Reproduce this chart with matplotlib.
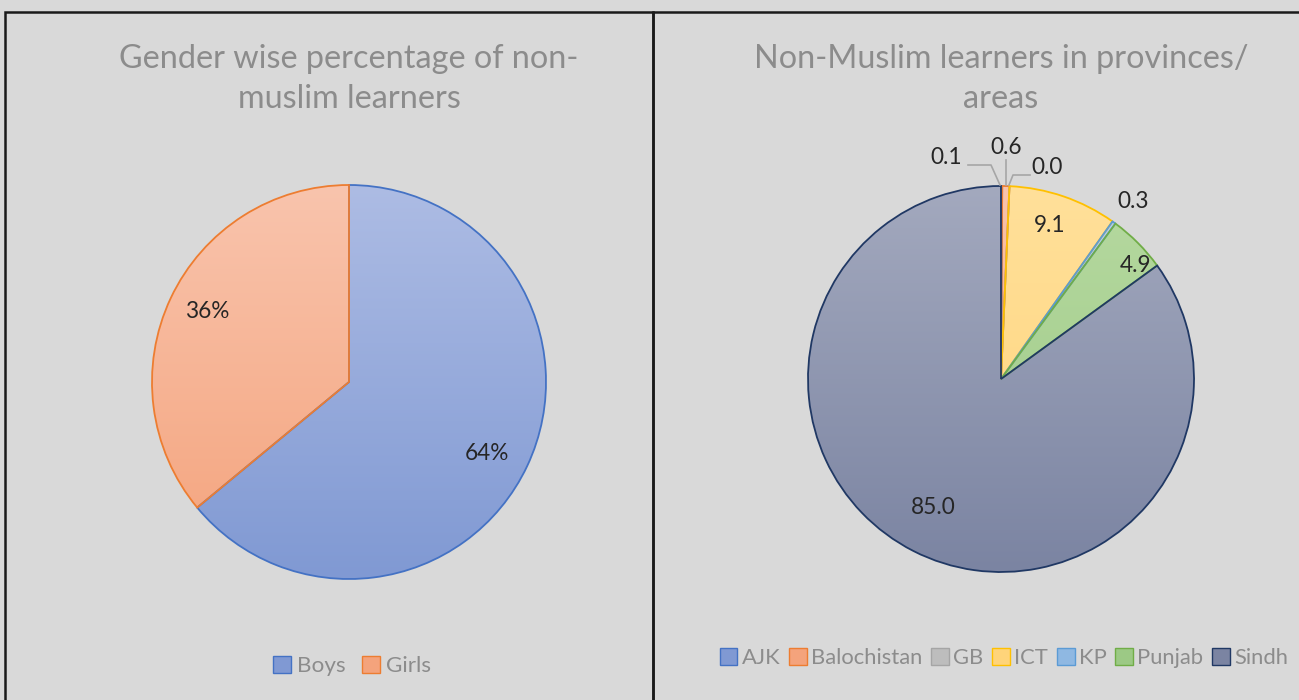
import matplotlib.pyplot as plt
import numpy as np
from matplotlib.colors import LinearSegmentedColormap
from matplotlib.patches import Patch, Rectangle
from matplotlib.lines import Line2D

plt.rcParams['font.family'] = ['Lato', 'DejaVu Sans']

# data
gender_labels = ['Boys', 'Girls']
gender_pct = [64, 36]
prov_labels = ['AJK', 'Balochistan', 'GB', 'ICT', 'KP', 'Punjab', 'Sindh']
prov_pct = [0.1, 0.6, 0.0, 9.1, 0.3, 4.9, 85.0]

# colours: (top of gradient, bottom of gradient, edge)
gender_cols = [('#adbce4', '#8099d3', '#4472c4'),
               ('#f9c4ad', '#f4a37c', '#ed7d31')]
prov_cols = [('#adbce4', '#8099d3', '#4472c4'),
             ('#f9c4ad', '#f4a37c', '#ed7d31'),
             ('#d6d6d6', '#bdbdbd', '#a5a5a5'),
             ('#ffe09a', '#ffd47a', '#ffc000'),
             ('#b4d0ee', '#8fb8e2', '#5b9bd5'),
             ('#b6d9a0', '#9cc985', '#70ad47'),
             ('#a3a9be', '#7b84a2', '#203864')]

W, H = 1299, 700
bg = '#d9d9d9'
txt_grey = '#8c8c8c'
fig = plt.figure(figsize=(W / 100, H / 100), dpi=100, facecolor=bg)

# panel borders
fig.patches.append(Rectangle((5 / W, -0.01), 648 / W, (H - 12) / H + 0.01,
                             transform=fig.transFigure, fill=False,
                             edgecolor='#1a1a1a', lw=1.8))
fig.patches.append(Rectangle((653 / W, -0.01), 660 / W, (H - 12) / H + 0.01,
                             transform=fig.transFigure, fill=False,
                             edgecolor='#1a1a1a', lw=1.8))


def make_axes(cx, cy, r):
    ax = fig.add_axes([(cx - r) / W, (H - cy - r) / H, 2 * r / W, 2 * r / H])
    ax.set_xlim(-1, 1)
    ax.set_ylim(-1, 1)
    ax.axis('off')
    ax.set_facecolor('none')
    return ax


def draw_pie(ax, vals, cols):
    wedges, _ = ax.pie(vals, startangle=90, counterclock=False, radius=1,
                       colors=['none'] * len(vals))
    for w, (top, bot, edge) in zip(wedges, cols):
        w.set_facecolor('none')
        w.set_edgecolor(edge)
        w.set_linewidth(1.3)
        w.set_zorder(3)
        cmap = LinearSegmentedColormap.from_list('g', [bot, top])
        im = ax.imshow(np.linspace(0, 1, 256).reshape(-1, 1), cmap=cmap,
                       extent=[-1, 1, -1, 1], origin='lower', aspect='auto',
                       zorder=2)
        im.set_clip_path(w)
    ax.set_xlim(-1, 1)
    ax.set_ylim(-1, 1)
    return wedges


# left chart
cxL, cyL, rL = 349, 382, 197
axL = make_axes(cxL, cyL, rL)
draw_pie(axL, gender_pct, gender_cols)
for lab, (px, py) in zip(gender_pct, [(487, 454), (207, 311)]):
    axL.text((px - cxL) / rL, (cyL - py) / rL, f'{lab}%', ha='center',
             va='center', fontsize=16.3, color='#262626', zorder=5)

fig.text(349 / W, 1 - 79 / H, 'Gender wise percentage of non-\nmuslim learners',
         ha='center', va='center', fontsize=23.3, color=txt_grey, linespacing=1.45)

legL = fig.legend([Patch(facecolor=c[1], edgecolor=c[2]) for c in gender_cols],
                  gender_labels, loc='center', bbox_to_anchor=(352 / W, 1 - 666 / H),
                  ncol=2, frameon=False, fontsize=16.2, handlelength=0.8,
                  handleheight=0.8, handletextpad=0.3, columnspacing=0.7)
for t in legL.get_texts():
    t.set_color(txt_grey)

# right chart
cxR, cyR, rR = 1001, 379, 193
axR = make_axes(cxR, cyR, rR)
draw_pie(axR, prov_pct, prov_cols)


def to_d(px, py):
    return (px - cxR) / rR, (cyR - py) / rR


label_pos = [(946, 158), (1006, 147), (1047, 168), (1050, 226),
             (1133, 202), (1136, 266), (933, 508)]
for v, (px, py) in zip(prov_pct, label_pos):
    x, y = to_d(px, py)
    axR.text(x, y, f'{v:.1f}', ha='center', va='center', fontsize=16.3,
             color='#262626', zorder=5, clip_on=False)

# leader lines for the small slices
leaders = [[(968, 165), (991, 165), (1000, 185)],
           [(1006, 160), (1006, 185)],
           [(1030, 175), (1013, 175), (1009, 185)]]
for pts in leaders:
    xs, ys = zip(*[to_d(*p) for p in pts])
    axR.add_line(Line2D(xs, ys, color='#a6a6a6', lw=1.2, zorder=4, clip_on=False))

fig.text(1001 / W, 1 - 79 / H, 'Non-Muslim learners in provinces/\nareas',
         ha='center', va='center', fontsize=23.3, color=txt_grey, linespacing=1.45)

legR = fig.legend([Patch(facecolor=c[1], edgecolor=c[2]) for c in prov_cols],
                  prov_labels, loc='center', bbox_to_anchor=(1004 / W, 1 - 658 / H),
                  ncol=7, frameon=False, fontsize=15.8, handlelength=0.8,
                  handleheight=0.8, handletextpad=0.2, columnspacing=0.4,
                  borderpad=0.2)
for t in legR.get_texts():
    t.set_color(txt_grey)

fig.savefig('out.png', dpi=100, facecolor=bg)
